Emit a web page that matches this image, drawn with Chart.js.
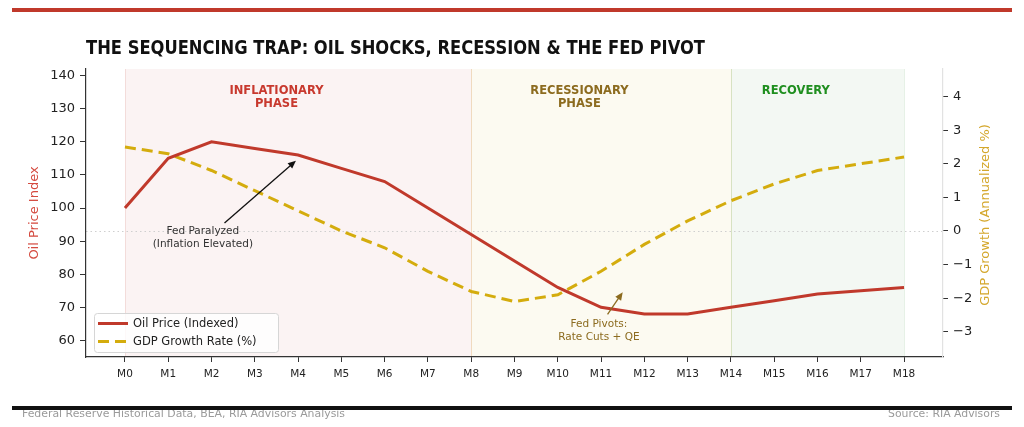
<!DOCTYPE html>
<html>
<head>
<meta charset="utf-8">
<script src="https://cdn.jsdelivr.net/npm/chart.js@4.4.1/dist/chart.umd.min.js"></script>
<style>
  body { margin: 0; background: #fff; }
  #wrap { width: 1024px; height: 427px; }
</style>
</head>
<body>
<div id="wrap"><canvas id="trapChart" width="1024" height="427"></canvas></div>
<script>
// months and series
const months = ["M0","M1","M2","M3","M4","M5","M6","M7","M8","M9","M10","M11","M12","M13","M14","M15","M16","M17","M18"];
const oilPrice = [100,115,120,118,116,112,108,100,92,84,76,70,68,68,70,72,74,75,76];
const gdpGrowth = [2.5,2.3,1.8,1.2,0.6,0.0,-0.5,-1.2,-1.8,-2.1,-1.9,-1.2,-0.4,0.3,0.9,1.4,1.8,2.0,2.2];
const oilTicks = [60,70,80,90,100,110,120,130,140];
const gdpTicks = [-3,-2,-1,0,1,2,3,4];

// phases
const phaseStart = [0, 8, 14];
const phaseEnd = [8, 14, 18];
const phaseLabels = [["INFLATIONARY","PHASE"],["RECESSIONARY","PHASE"],["RECOVERY"]];
const phaseColors = ["#c8392e","#8c6b1f","#1f8f1f"];
const phaseFills = ["rgba(192,57,43,0.06)","rgba(212,172,13,0.06)","rgba(46,139,46,0.06)"];

const RED = "#c0392b";
const GOLD = "#d4ac0d";
const gdpTitle = "GDP Growth (Annualized %)";

function toPoints(arr){
    return arr.map((v,i)=>({x:i, y:v}));
}

function drawArrow(ctx, x1, y1, x2, y2, color){
    const ang = Math.atan2(y2-y1, x2-x1);
    const hl = 8;
    ctx.save();
    ctx.strokeStyle = color;
    ctx.fillStyle = color;
    ctx.lineWidth = 1.3;
    ctx.beginPath();
    ctx.moveTo(x1, y1);
    ctx.lineTo(x2 - Math.cos(ang)*hl*0.8, y2 - Math.sin(ang)*hl*0.8);
    ctx.stroke();
    ctx.beginPath();
    ctx.moveTo(x2, y2);
    ctx.lineTo(x2 - hl*Math.cos(ang) + 3.5*Math.sin(ang), y2 - hl*Math.sin(ang) - 3.5*Math.cos(ang));
    ctx.lineTo(x2 - hl*Math.cos(ang) - 3.5*Math.sin(ang), y2 - hl*Math.sin(ang) + 3.5*Math.cos(ang));
    ctx.closePath();
    ctx.fill();
    ctx.restore();
}

// squeeze text horizontally to a given width
function fitText(ctx, text, x, y, width, align){
    const w = ctx.measureText(text).width;
    const s = width / w;
    ctx.save();
    ctx.translate(x, y);
    ctx.scale(s, 1);
    ctx.textAlign = align || "left";
    ctx.fillText(text, 0, 0);
    ctx.restore();
}

const decorPlugin = {
    id: "decor",
    beforeDraw(chart){
        const ctx = chart.ctx;
        const xs = chart.scales.x;
        const area = chart.chartArea;
        ctx.save();
        ctx.fillStyle = "#fff";
        ctx.fillRect(0, 0, chart.width, chart.height);
        // phase shading
        for (let i = 0; i < phaseStart.length; i++){
            const a = xs.getPixelForValue(phaseStart[i]);
            const b = xs.getPixelForValue(phaseEnd[i]);
            ctx.fillStyle = phaseFills[i];
            ctx.fillRect(a, area.top, b - a, area.bottom - area.top);
            ctx.strokeStyle = phaseFills[i].replace("0.06", "0.12");
            ctx.lineWidth = 1;
            ctx.beginPath();
            ctx.moveTo(Math.round(a)+0.5, area.top);
            ctx.lineTo(Math.round(a)+0.5, area.bottom);
            ctx.moveTo(Math.round(b)+0.5, area.top);
            ctx.lineTo(Math.round(b)+0.5, area.bottom);
            ctx.stroke();
        }
        // zero growth line
        const y0 = Math.round(chart.scales.y2.getPixelForValue(0)) + 0.5;
        ctx.strokeStyle = "#cfcfcf";
        ctx.setLineDash([1.5, 3]);
        ctx.beginPath();
        ctx.moveTo(area.left, y0);
        ctx.lineTo(area.right, y0);
        ctx.stroke();
        ctx.restore();
    },
    afterDraw(chart){
        const ctx = chart.ctx;
        const xs = chart.scales.x;
        const ys = chart.scales.y;
        const y2 = chart.scales.y2;
        const area = chart.chartArea;
        ctx.save();

        // top red rule
        ctx.fillStyle = RED;
        ctx.fillRect(12, 8, 1000, 4);

        // title
        ctx.fillStyle = "#111";
        ctx.font = "bold 19px 'DejaVu Sans'";
        ctx.textBaseline = "alphabetic";
        fitText(ctx, "THE SEQUENCING TRAP: OIL SHOCKS, RECESSION & THE FED PIVOT", 86, 54, 619);

        // right axis title, reading bottom to top
        ctx.save();
        ctx.translate(986, (area.top + area.bottom) / 2 + 2);
        ctx.rotate(-Math.PI / 2);
        ctx.fillStyle = "#d4a72c";
        ctx.font = "13px 'DejaVu Sans'";
        ctx.textAlign = "center";
        ctx.textBaseline = "middle";
        ctx.fillText(gdpTitle, 0, 0);
        ctx.restore();

        // phase labels
        ctx.font = "bold 11.5px 'DejaVu Sans'";
        ctx.textAlign = "center";
        ctx.textBaseline = "middle";
        for (let i = 0; i < phaseLabels.length; i++){
            const cx = xs.getPixelForValue((phaseStart[i] + phaseEnd[i]) / 2 - 0.5);
            ctx.fillStyle = phaseColors[i];
            phaseLabels[i].forEach((t, k)=>ctx.fillText(t, cx, 91 + k*13));
        }

        // annotations
        drawArrow(ctx, xs.getPixelForValue(2.3), ys.getPixelForValue(95.5),
                  xs.getPixelForValue(3.95), ys.getPixelForValue(114.3), "#111");
        ctx.fillStyle = "#333";
        ctx.font = "10.5px 'DejaVu Sans'";
        const fx = xs.getPixelForValue(1.8);
        ctx.fillText("Fed Paralyzed", fx, 231);
        ctx.fillText("(Inflation Elevated)", fx, 244);

        drawArrow(ctx, xs.getPixelForValue(11.15), y2.getPixelForValue(-2.48),
                  xs.getPixelForValue(11.5), y2.getPixelForValue(-1.82), "#8c6b1f");
        ctx.fillStyle = "#8c6b1f";
        const px = xs.getPixelForValue(10.95);
        ctx.fillText("Fed Pivots:", px, 324);
        ctx.fillText("Rate Cuts + QE", px, 337);

        // legend box
        ctx.fillStyle = "rgba(255,255,255,0.8)";
        ctx.strokeStyle = "#d6d6d6";
        ctx.lineWidth = 1;
        ctx.beginPath();
        ctx.roundRect(94.5, 313.5, 184, 39, 3);
        ctx.fill();
        ctx.stroke();
        ctx.font = "11.5px 'DejaVu Sans'";
        ctx.textAlign = "left";
        chart.data.datasets.forEach((ds, k)=>{
            const ly = 323.5 + k*18;
            ctx.strokeStyle = ds.borderColor;
            ctx.lineWidth = 3;
            ctx.setLineDash(ds.borderDash || []);
            ctx.beginPath();
            ctx.moveTo(98, ly);
            ctx.lineTo(128, ly);
            ctx.stroke();
            ctx.setLineDash([]);
            ctx.fillStyle = "#222";
            ctx.fillText(ds.label, 133, ly + 0.5);
        });

        // footer
        ctx.fillStyle = "#9a9a9a";
        ctx.font = "11px 'DejaVu Sans'";
        ctx.textBaseline = "middle";
        fitText(ctx, "Federal Reserve Historical Data, BEA, RIA Advisors Analysis", 22, 414, 323, "left");
        fitText(ctx, "Source: RIA Advisors", 1000, 414, 112, "right");
        ctx.fillStyle = "#111";
        ctx.fillRect(12, 406, 1000, 4);
        ctx.restore();
    }
};

const ctx = document.getElementById("trapChart");
const chart = new Chart(ctx, {
    type: "line",
    data: {
        datasets: [{
            label: "Oil Price (Indexed)",
            data: toPoints(oilPrice),
            yAxisID: "y",
            borderColor: RED,
            borderWidth: 3,
            pointRadius: 0,
            tension: 0,
            fill: false
        }, {
            label: "GDP Growth Rate (%)",
            data: toPoints(gdpGrowth),
            yAxisID: "y2",
            borderColor: GOLD,
            borderWidth: 3,
            borderDash: [11, 6],
            pointRadius: 0,
            tension: 0,
            fill: false
        }]
    },
    options: {
        responsive: false,
        devicePixelRatio: 1,
        animation: false,
        layout: { padding: { top: 69, left: 0, right: 0, bottom: 0 } },
        scales: {
            x: {
                type: "linear",
                min: -0.9,
                max: 18.9,
                afterBuildTicks: s => { s.ticks = months.map((m, i) => ({ value: i })); },
                afterFit: s => { s.height = 70; },
                ticks: {
                    callback: v => months[v],
                    color: "#222",
                    font: { family: "DejaVu Sans", size: 10.5 },
                    padding: 6,
                    maxRotation: 0,
                    autoSkip: false
                },
                grid: { drawOnChartArea: false, tickLength: 5, color: "#333" },
                border: { display: true, color: "#333", width: 1.2 }
            },
            y: {
                position: "left",
                min: 55,
                max: 142,
                afterBuildTicks: s => { s.ticks = oilTicks.map(v => ({ value: v })); },
                afterFit: s => { s.width = 86; },
                ticks: {
                    color: "#222",
                    font: { family: "DejaVu Sans", size: 13 },
                    padding: 5
                },
                grid: { drawOnChartArea: false, tickLength: 6, color: "#333" },
                border: { display: true, color: "#333", width: 1.2 },
                title: {
                    display: true,
                    text: "Oil Price Index",
                    color: "#d44a3f",
                    font: { family: "DejaVu Sans", size: 13 },
                    padding: { top: 27, bottom: 0 }
                }
            },
            y2: {
                position: "right",
                min: -3.75,
                max: 4.82,
                afterBuildTicks: s => { s.ticks = gdpTicks.map(v => ({ value: v })); },
                afterFit: s => { s.width = 81; },
                ticks: {
                    color: "#222",
                    font: { family: "DejaVu Sans", size: 13 },
                    padding: 5,
                    callback: v => v < 0 ? "\u2212" + Math.abs(v) : String(v)
                },
                grid: { drawOnChartArea: false, tickLength: 5, color: "#333" },
                border: { display: true, color: "#e2e2e2", width: 1.2 }
            }
        },
        plugins: {
            legend: { display: false },
            tooltip: { enabled: false }
        }
    },
    plugins: [decorPlugin]
});
</script>
</body>
</html>
